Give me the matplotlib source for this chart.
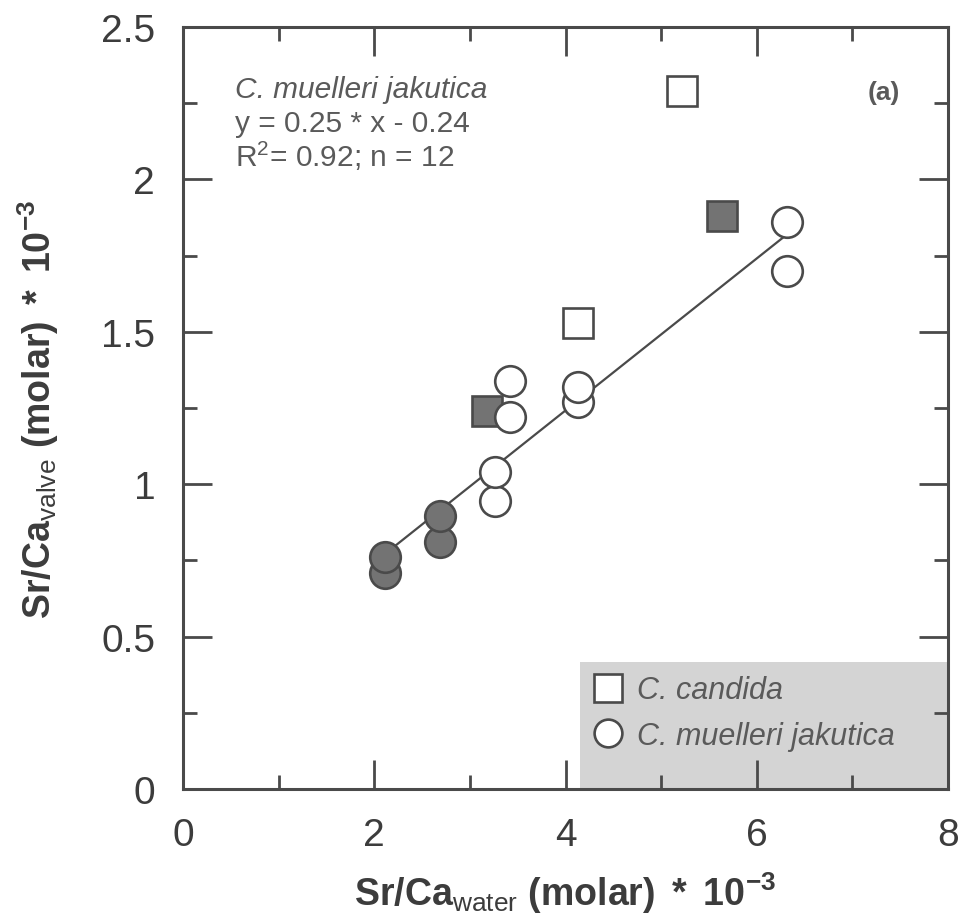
import numpy as np
import matplotlib
matplotlib.use('Agg')
import matplotlib.pyplot as plt
from matplotlib.ticker import MultipleLocator, FuncFormatter
from matplotlib.patches import Rectangle
from matplotlib.lines import Line2D

plt.rcParams['font.family'] = ['Liberation Sans', 'DejaVu Sans']
plt.rcParams['mathtext.fontset'] = 'custom'
plt.rcParams['mathtext.rm'] = 'Liberation Sans'
plt.rcParams['mathtext.bf'] = 'Liberation Sans:bold'
plt.rcParams['mathtext.it'] = 'Liberation Sans:italic'

# C. candida (squares); filled = grey
cand_x = [4.13, 5.22, 3.18, 5.64]
cand_y = [1.53, 2.29, 1.24, 1.88]
cand_filled = [False, False, True, True]

# C. muelleri jakutica (circles); drawn lower point first
jak_x = [2.11, 2.11, 2.69, 2.69, 3.26, 3.26, 3.42, 3.42, 4.13, 4.13, 6.32, 6.32]
jak_y = [0.71, 0.76, 0.81, 0.896, 0.945, 1.04, 1.22, 1.34, 1.27, 1.32, 1.70, 1.86]
jak_filled = [True, True, True, True, False, False, False, False, False, False, False, False]

x_ticks = [0, 2, 4, 6, 8]
y_ticks = [0, 0.5, 1, 1.5, 2, 2.5]

DARK = '#4a4a4a'
GREY_FILL = '#737373'
TXT = '#5a5a5a'

fig = plt.figure(figsize=(9.62, 9.2), dpi=100)
ax = fig.add_axes([183/962, 1 - 790/920, 765/962, 762/920])

# regression line for C. muelleri jakutica
slope, icpt = np.polyfit(jak_x, jak_y, 1)
fx = np.array([min(jak_x), max(jak_x)])
ax.plot(fx, slope * fx + icpt, color=DARK, lw=1.6, zorder=2)

for x, y, f in zip(cand_x, cand_y, cand_filled):
    ax.plot(x, y, marker='s', ms=22, mew=1.9, mec=DARK,
            mfc=GREY_FILL if f else 'white', ls='none', zorder=3)
for x, y, f in zip(jak_x, jak_y, jak_filled):
    ax.plot(x, y, marker='o', ms=22, mew=1.9, mec=DARK,
            mfc=GREY_FILL if f else 'white', ls='none', zorder=4)

ax.set_xlim(0, 8)
ax.set_ylim(0, 2.5)
ax.set_xticks(x_ticks)
ax.set_yticks(y_ticks)
ax.xaxis.set_minor_locator(MultipleLocator(1))
ax.yaxis.set_minor_locator(MultipleLocator(0.25))
ax.yaxis.set_major_formatter(FuncFormatter(lambda v, p: '%g' % v))
ax.tick_params(which='both', direction='in', top=True, right=True,
               color=DARK, width=2.0, labelsize=28, labelcolor='#3c3c3c', pad=20)
ax.tick_params(which='major', length=21)
ax.tick_params(which='minor', length=10)
for s in ax.spines.values():
    s.set_linewidth(2.2)
    s.set_color(DARK)

ax.set_xlabel(r'$\mathbf{Sr/Ca}_{\mathrm{water}}\ \mathbf{(molar)\ *\ 10}^{\mathbf{-3}}$',
              fontsize=27, color='#3c3c3c')
ax.set_ylabel(r'$\mathbf{Sr/Ca}_{\mathrm{valve}}\ \mathbf{(molar)\ *\ 10}^{\mathbf{-3}}$',
              fontsize=27, color='#3c3c3c')
ax.xaxis.set_label_coords(0.5, -0.105)
ax.yaxis.set_label_coords(-0.16, 0.5)

# fit annotation
ax.text(0.068, 0.908, 'C. muelleri jakutica', style='italic', fontsize=21.5,
        color=TXT, transform=ax.transAxes, va='baseline')
ax.text(0.068, 0.8635, 'y = 0.25 * x - 0.24', fontsize=21.5,
        color=TXT, transform=ax.transAxes, va='baseline')
ax.text(0.068, 0.8176, 'R$^{2}$= 0.92; n = 12', fontsize=21.5,
        color=TXT, transform=ax.transAxes, va='baseline')
ax.text(0.937, 0.906, '(a)', fontsize=19, fontweight='bold',
        color=TXT, transform=ax.transAxes, va='baseline', ha='right')

# legend on grey box
ax.add_patch(Rectangle((0.519, 0), 0.481, 0.167, transform=ax.transAxes,
                       facecolor='#d4d4d4', edgecolor='none', zorder=1))
handles = [
    Line2D([], [], marker='s', ms=20, mew=1.9, mec=DARK, mfc='white', ls='none'),
    Line2D([], [], marker='o', ms=20, mew=1.9, mec=DARK, mfc='white', ls='none'),
]
leg = ax.legend(handles, ['C. candida', 'C. muelleri jakutica'],
                loc='upper left', bbox_to_anchor=(0.52, 0.167), frameon=False,
                prop={'style': 'italic', 'size': 22}, labelcolor=TXT,
                handlelength=0.9, handletextpad=0.5, labelspacing=0.5,
                borderaxespad=0.2, borderpad=0.25)

fig.savefig('out.png', dpi=100)
